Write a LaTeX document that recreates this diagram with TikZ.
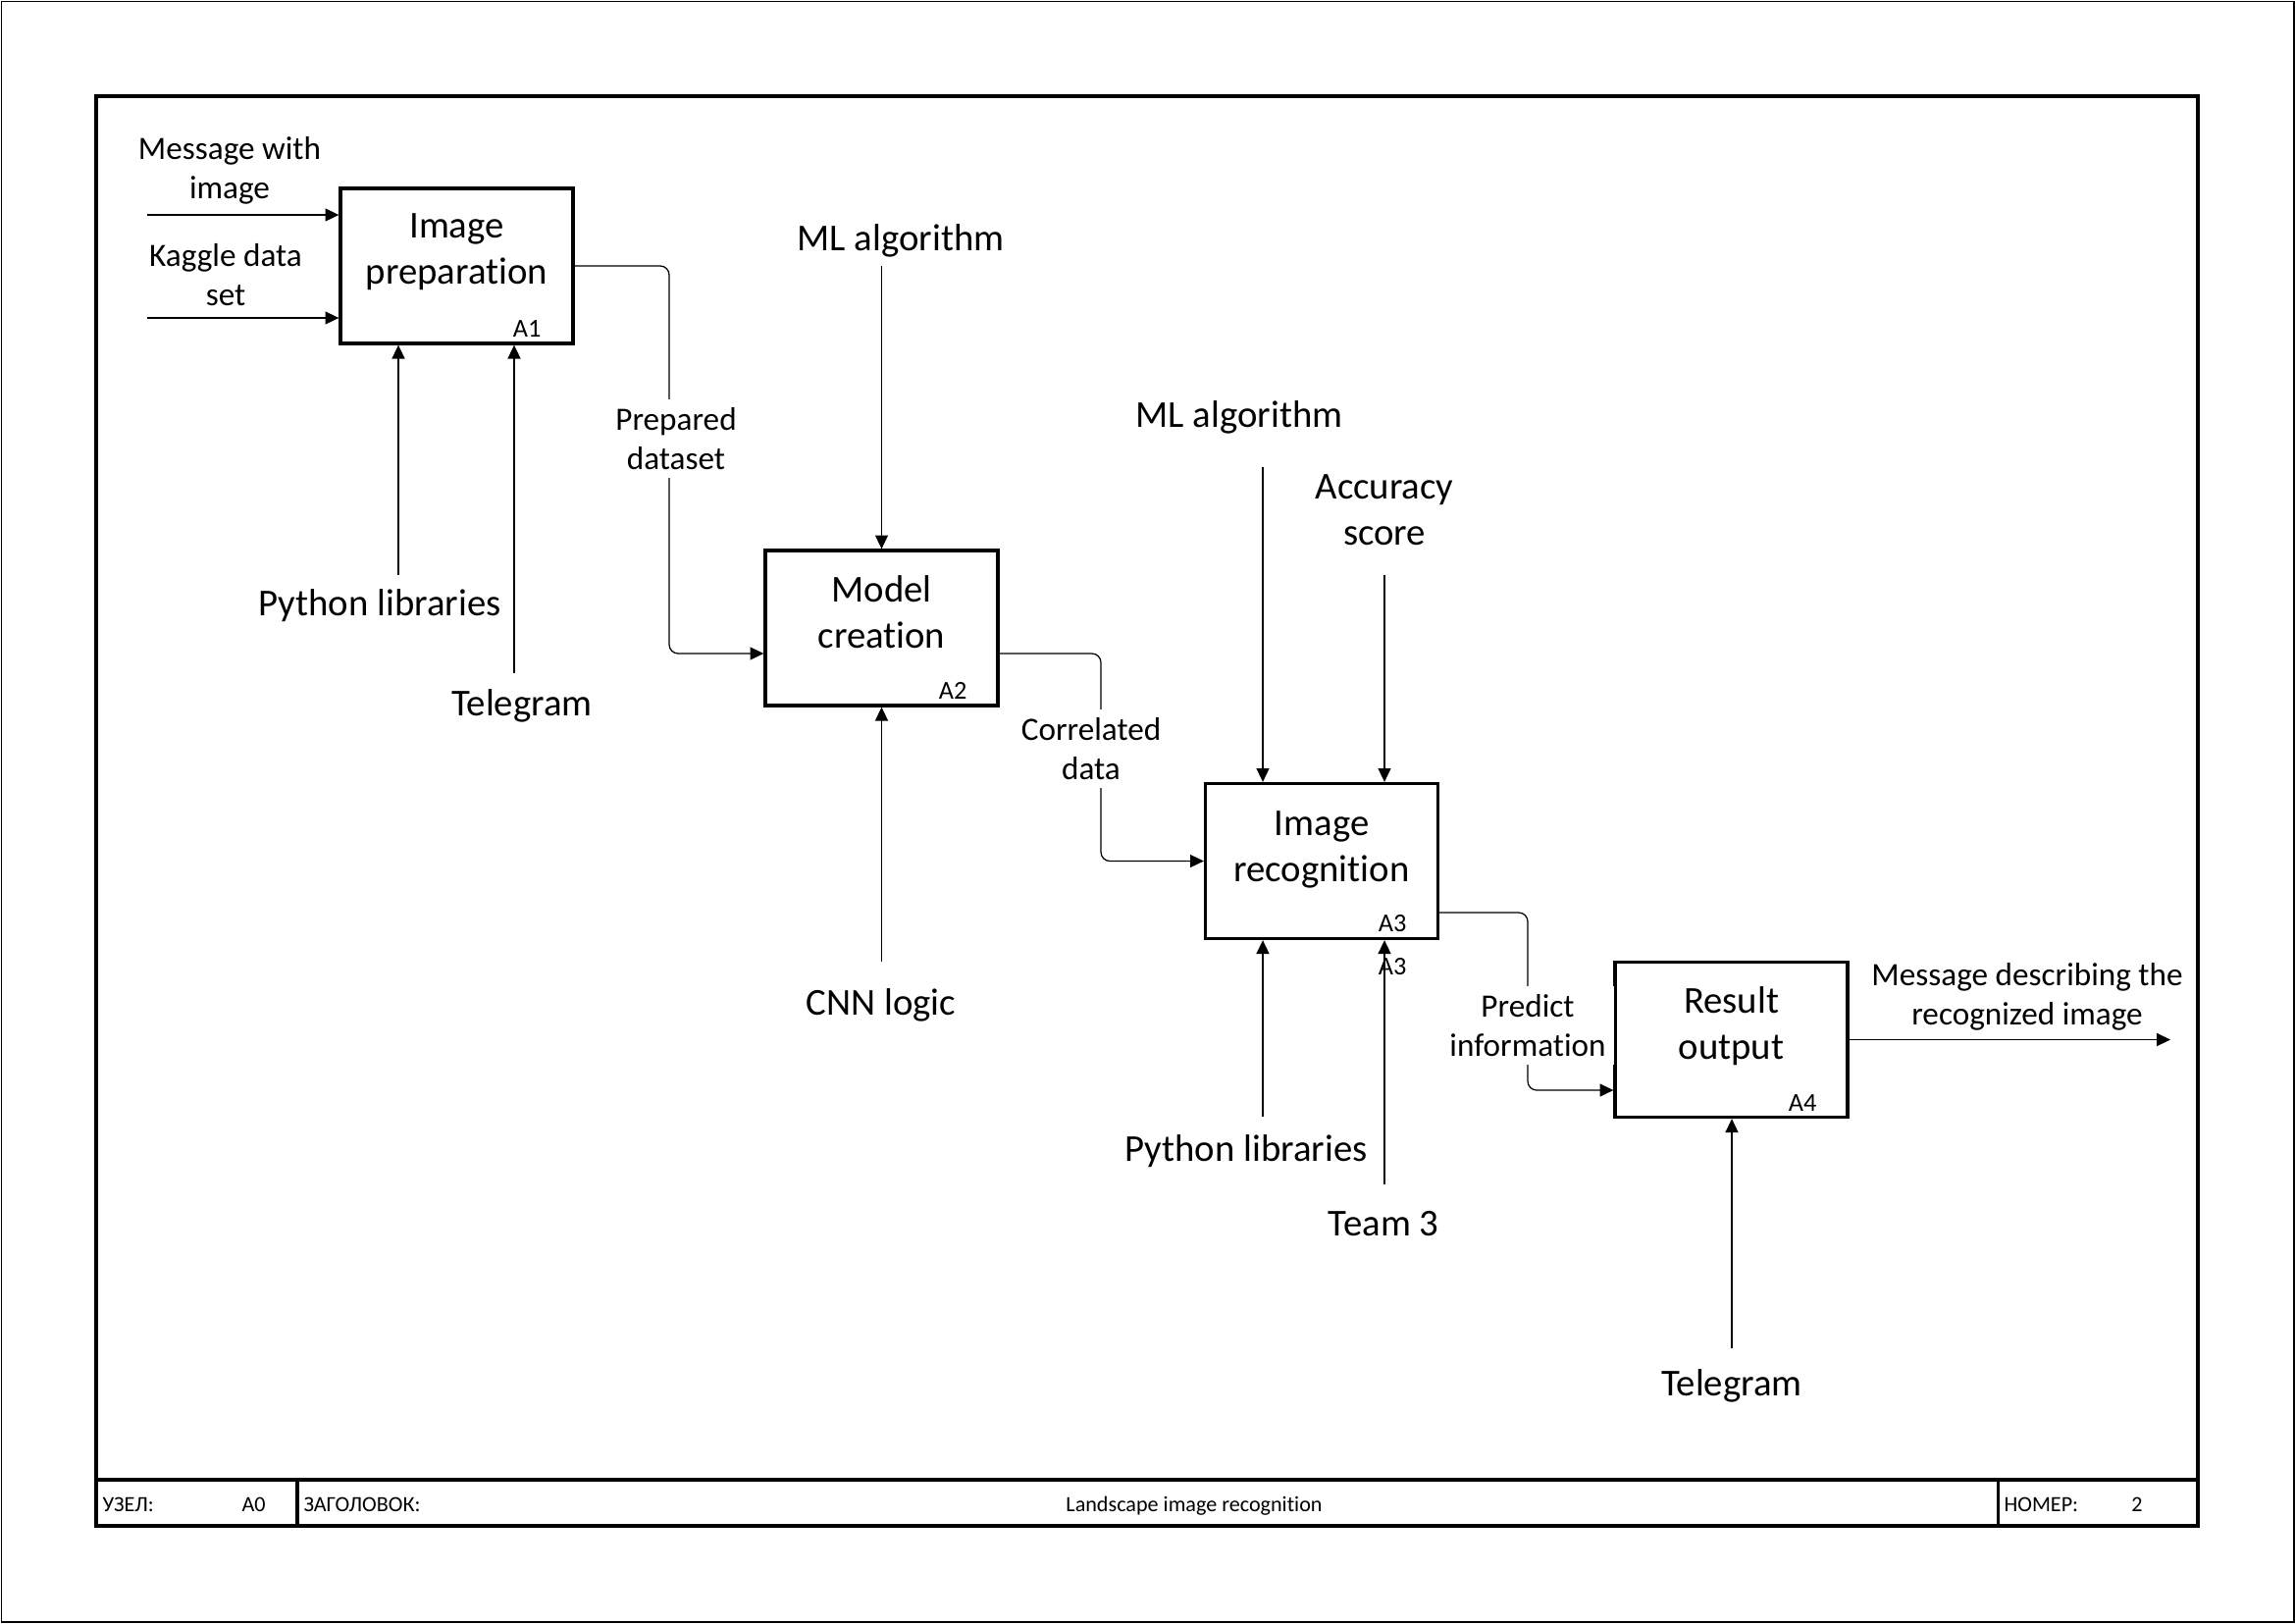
\documentclass[tikz,border=0pt]{standalone}
\usepackage{fontspec}
\setmainfont{Carlito}[Ligatures=NoCommon]
\usetikzlibrary{arrows.meta}

\begin{document}
\begin{tikzpicture}[x=0.127mm,y=-0.127mm,
  fbox/.style={draw, line width=1.2pt, minimum width=237*0.127mm, minimum height=158*0.127mm, inner sep=0pt},
  big/.style={font=\fontsize{14}{16.9}\selectfont, align=center, inner sep=0pt, anchor=base},
  small/.style={font=\fontsize{12}{14.4}\selectfont, align=center, inner sep=0pt, anchor=base},
  onlbl/.style={small, fill=white, inner sep=3pt},
  num/.style={font=\fontsize{9.5}{11}\selectfont, inner sep=0pt, anchor=base east},
  tb/.style={font=\fontsize{8}{9.6}\selectfont, inner sep=0pt, anchor=base west},
  conn/.style={line width=0.45pt},
  arr/.style={conn, -{Triangle[length=5pt,width=4.7pt]}},
  rc/.style={rounded corners=3.3pt}]

\useasboundingbox (0,0) rectangle (2339,1654);

% sheet border and form frame
\draw[line width=0.72pt] (1.5,1.5) rectangle (2337.5,1652.5);
\draw[line width=1.45pt] (98,98) rectangle (2240,1555);
\draw[line width=1.45pt] (98,1508) -- (2240,1508);
\draw[line width=1.1pt] (303,1508) -- (303,1555);
\draw[line width=1.1pt] (2036,1508) -- (2036,1555);

% title block
\node[tb] (tbnode) at (104,1540) {УЗЕЛ:};
\node[tb] (tbnodev) at (246,1540) {A0};
\node[tb] (tbtitle) at (309,1540) {ЗАГОЛОВОК:};
\node[tb, anchor=base] (tbtitlev) at (1217,1540) {Landscape image recognition};
\node[tb] (tbnum) at (2042,1540) {НОМЕР:};
\node[tb, anchor=base] (tbnumv) at (2178,1540) {2};

% function boxes
\node[fbox] (a1) at (465.5,271) {};
\node[fbox] (a2) at (898.5,640) {};
\node[fbox] (a3) at (1347,877.5) {};
\node[fbox] (a4) at (1764.5,1059.5) {};

% box names (multi-line nodes are placed by the baseline of their last line)
\node[big] (a1t) at (465.5,289) {Image\\preparation};
\node[big] (a2t) at (898.5,660) {Model\\creation};
\node[big] (a3t) at (1347,898) {Image\\recognition};
\node[big] (a4t) at (1764.5,1079) {Result\\output};

\node[num] (a1n) at (552,343) {A1};
\node[num] (a2n) at (986,712) {A2};
\node[num] (a3n) at (1434,949) {A3};
\node[num] (a4n) at (1852,1132) {A4};
\node[num] (a3m) at (1434,993) {A3};

% inputs of A1
\coordinate (i1) at (150,219);
\coordinate (i2) at (150,324);
\draw[arr] (i1) -- (i1 -| a1.west);
\draw[arr] (i2) -- (i2 -| a1.west);
\node[small] (tmsg) at (234,202) {Message with\\image};
\node[small] (tkag) at (230,311) {Kaggle data\\set};

% mechanisms of A1
\coordinate (m1) at (406,586);
\coordinate (m2) at (524,686);
\draw[arr] (m1) -- (m1 |- a1.south);
\draw[arr] (m2) -- (m2 |- a1.south);
\node[big] (tpy1) at (387,627) {Python libraries};
\node[big] (ttg1) at (532,729) {Telegram};

% control and mechanism of A2
\coordinate (c2) at (898.5,271);
\draw[arr] (c2) -- (c2 |- a2.north);
\node[big] (tml1) at (918,255) {ML algorithm};
\coordinate (m3) at (898.5,980);
\draw[arr] (m3) -- (m3 |- a2.south);
\node[big] (tcnn) at (898,1034) {CNN logic};

% controls and mechanisms of A3
\coordinate (c3) at (1287,476);
\coordinate (c4) at (1411,586);
\draw[arr] (c3) -- (c3 |- a3.north);
\draw[arr] (c4) -- (c4 |- a3.north);
\node[big] (tml2) at (1263,435) {ML algorithm};
\node[big] (tacc) at (1411,555) {Accuracy\\score};
\coordinate (m4) at (1287,1138);
\coordinate (m5) at (1411,1207);
\draw[arr] (m4) -- (m4 |- a3.south);
\draw[arr] (m5) -- (m5 |- a3.south);
\node[big] (tpy2) at (1270,1183) {Python libraries};
\node[big] (tteam) at (1410,1259) {Team 3};

% mechanism and output of A4
\coordinate (m6) at (1765,1374);
\draw[arr] (m6) -- (m6 |- a4.south);
\node[big] (ttg2) at (1765,1422) {Telegram};
\coordinate (o4) at (2212,1059.5);
\draw[arr] (a4.east) -- (o4);
\node[small] (tout) at (2066,1044) {Message describing the\\recognized image};

% flows between the functions
\coordinate (k1) at (682,666);
\draw[arr, rc] (a1.east) -| (k1) -- (k1 -| a2.west);
\node[onlbl] (tprep) at (689,478) {Prepared\\dataset};

\coordinate (k2) at (1122,877.5);
\draw[arr, rc] (a2.east |- k1) -| (k2) -- (k2 -| a3.west);
\node[onlbl] (tcorr) at (1112,794) {Correlated\\data};

\coordinate (s3) at (1466,930);
\coordinate (k3) at (1557,1111);
\draw[arr, rc] (a3.east |- s3) -| (k3) -- (k3 -| a4.west);
\node[onlbl] (tpred) at (1557,1076) {Predict\\information};

\end{tikzpicture}
\end{document}
